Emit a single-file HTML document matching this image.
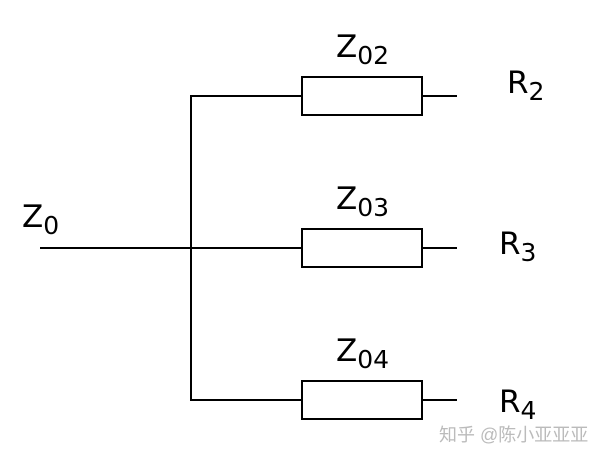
<!DOCTYPE html>
<html><head><style>
body{margin:0;background:#fff;width:600px;height:458px;overflow:hidden}
</style></head><body>
<svg width="600" height="458" xmlns="http://www.w3.org/2000/svg" style="display:block">
<g stroke="#000" stroke-width="2" fill="none">
<line x1="191" y1="96" x2="191" y2="401"/>
<line x1="190" y1="96" x2="302" y2="96"/>
<line x1="40" y1="248" x2="302" y2="248"/>
<line x1="190" y1="400" x2="302" y2="400"/>
<rect x="302" y="77" width="120" height="38"/>
<rect x="302" y="229" width="120" height="38"/>
<rect x="302" y="381" width="120" height="38"/>
<line x1="422" y1="96" x2="457" y2="96"/>
<line x1="422" y1="248" x2="457" y2="248"/>
<line x1="422" y1="400" x2="457" y2="400"/>
</g>
<g font-family="DejaVu Sans, sans-serif" fill="#000" font-size="31">
<text x="22" y="227">Z<tspan font-size="25" dy="7">0</tspan></text>
<text x="336" y="57">Z<tspan font-size="25" dy="7">02</tspan></text>
<text x="336" y="209">Z<tspan font-size="25" dy="7">03</tspan></text>
<text x="336" y="361">Z<tspan font-size="25" dy="7">04</tspan></text>
<text x="507" y="93">R<tspan font-size="25" dy="7">2</tspan></text>
<text x="499" y="254">R<tspan font-size="25" dy="7">3</tspan></text>
<text x="499" y="412">R<tspan font-size="25" dy="7">4</tspan></text>
</g>
<text x="439" y="441" font-family="Liberation Sans, Noto Sans CJK SC, sans-serif" font-size="18" fill="#bbb">知乎 @陈小亚亚亚</text>
</svg>
</body></html>
